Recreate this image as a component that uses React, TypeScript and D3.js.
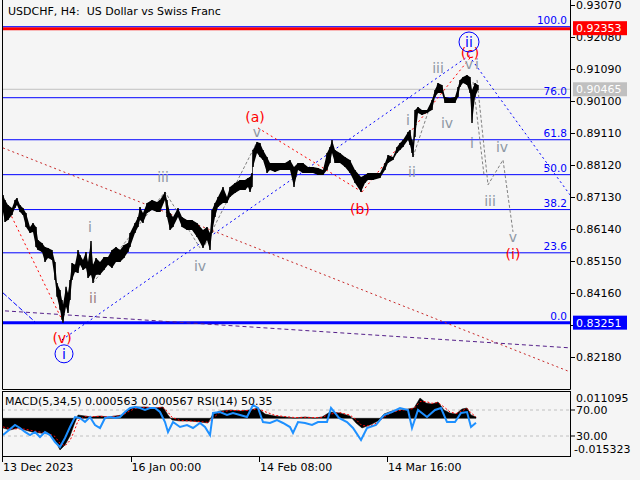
import React from "react";
import * as d3 from "d3";

const W = 640;
const H = 480;
const plotLeft = 2;
const plotRight = 570;
const mainBottom = 389;
const subTop = 391;
const subBottom = 456;

// H4 price samples: bar index, high, low
const barIdx = [1, 3, 6, 10, 13, 15, 18, 21, 24, 28, 31, 34, 36, 40, 43, 46, 50, 53, 55, 58, 60, 61, 64, 66, 68, 70, 73, 76, 78, 81, 84, 86, 89, 91, 94, 98, 102, 106, 110, 114, 118, 122, 126, 128, 133, 136, 138, 141, 145, 150, 155, 158, 163, 165, 168, 171, 176, 180, 185, 190, 195, 201, 205, 208, 210, 213, 216, 221, 225, 228, 233, 238, 243, 246, 248, 250, 251, 255, 258, 261, 265, 268, 273, 278, 283, 288, 292, 296, 301, 306, 311, 316, 321, 325, 328, 330, 333, 338, 343, 348, 353, 359, 363, 366, 371, 378, 383, 386, 391, 395, 398, 401, 406, 408, 410, 411, 413, 416, 420, 425, 430, 433, 436, 440, 443, 448, 453, 456, 458, 461, 465, 468, 470, 473, 476];
const barHigh = [0.872, 0.87045, 0.86891, 0.86798, 0.87045, 0.87107, 0.86891, 0.86798, 0.86643, 0.86211, 0.86334, 0.86211, 0.85809, 0.85716, 0.85593, 0.85562, 0.855, 0.85129, 0.8448, 0.84264, 0.83955, 0.83801, 0.84357, 0.84171, 0.84573, 0.85098, 0.85037, 0.855, 0.85346, 0.85191, 0.85438, 0.85129, 0.85778, 0.85037, 0.85253, 0.85129, 0.85284, 0.85284, 0.855, 0.85593, 0.855, 0.85655, 0.85716, 0.86025, 0.86334, 0.8652, 0.86829, 0.86643, 0.86952, 0.87045, 0.86983, 0.87045, 0.87292, 0.87045, 0.86643, 0.8652, 0.86798, 0.8652, 0.86427, 0.86427, 0.86334, 0.86118, 0.86211, 0.86025, 0.86736, 0.86952, 0.87138, 0.87447, 0.87138, 0.87447, 0.8757, 0.87663, 0.87663, 0.87725, 0.87756, 0.87879, 0.8859, 0.88837, 0.88806, 0.8859, 0.88374, 0.88188, 0.88188, 0.88188, 0.88188, 0.88281, 0.88065, 0.88188, 0.88188, 0.88065, 0.88065, 0.88034, 0.87972, 0.88497, 0.88683, 0.88899, 0.8859, 0.88497, 0.88374, 0.88281, 0.87972, 0.87756, 0.87818, 0.87879, 0.87879, 0.87879, 0.88188, 0.88436, 0.88374, 0.88683, 0.88806, 0.88899, 0.89146, 0.89208, 0.88899, 0.88806, 0.89826, 0.89919, 0.89826, 0.89826, 0.90135, 0.90444, 0.9066, 0.90599, 0.90228, 0.90197, 0.90228, 0.90537, 0.90753, 0.90846, 0.90908, 0.90846, 0.90444, 0.9066, 0.90599];
const barLow = [0.86674, 0.86365, 0.86427, 0.86582, 0.86798, 0.86891, 0.86674, 0.86582, 0.86211, 0.86025, 0.86056, 0.85593, 0.855, 0.85438, 0.85129, 0.85253, 0.85191, 0.84573, 0.84048, 0.83646, 0.83337, 0.83251, 0.83739, 0.83553, 0.83955, 0.84573, 0.8482, 0.84789, 0.85037, 0.84882, 0.84944, 0.84635, 0.84728, 0.8448, 0.84728, 0.84728, 0.84882, 0.85037, 0.84944, 0.85129, 0.85129, 0.85253, 0.85438, 0.85593, 0.86025, 0.86211, 0.86427, 0.86334, 0.86643, 0.86736, 0.86674, 0.86674, 0.87045, 0.8652, 0.86118, 0.86211, 0.8652, 0.86211, 0.86118, 0.86118, 0.85902, 0.85562, 0.85809, 0.855, 0.86025, 0.8652, 0.86829, 0.86952, 0.86952, 0.87138, 0.87261, 0.87354, 0.87354, 0.87447, 0.87292, 0.87447, 0.88065, 0.88497, 0.88374, 0.88281, 0.87879, 0.87972, 0.8791, 0.87972, 0.87972, 0.87972, 0.87447, 0.87972, 0.87879, 0.87879, 0.87879, 0.87818, 0.87818, 0.87972, 0.88188, 0.88497, 0.88188, 0.88188, 0.88065, 0.87879, 0.8757, 0.87292, 0.8757, 0.87663, 0.87663, 0.87725, 0.87972, 0.88188, 0.88281, 0.88497, 0.8859, 0.88683, 0.88899, 0.88745, 0.88497, 0.88374, 0.88992, 0.89733, 0.89672, 0.89733, 0.89826, 0.90228, 0.90351, 0.90351, 0.90042, 0.90042, 0.90042, 0.90228, 0.90537, 0.9066, 0.90599, 0.90351, 0.89424, 0.90228, 0.90444];

const priceTicks = [0.9307, 0.9208, 0.9109, 0.901, 0.8911, 0.8812, 0.8713, 0.8614, 0.8515, 0.8416, 0.8317, 0.8218];
const dateTickBars = [0, 128.5, 257, 385];
const dateTickLabels = ["13 Dec 2023", "16 Jan 00:00", "14 Feb 08:00", "14 Mar 16:00"];

const fibLevels = [0, 23.6, 38.2, 50, 61.8, 76, 100];
const fibLow = 0.83251;
const fibHigh = 0.924;
const highLine = 0.92353;
const lowLine = 0.83251;
const lastPrice = 0.90465;

// MACD(5,34,5) and signal
const macdBars = [1, 8, 16, 23, 30, 38, 46, 53, 58, 63, 68, 72, 76, 83, 90, 98, 106, 113, 120, 126, 133, 143, 153, 161, 166, 170, 178, 188, 198, 206, 211, 218, 228, 238, 248, 256, 263, 273, 283, 293, 303, 313, 320, 328, 338, 348, 354, 360, 368, 376, 382, 390, 398, 406, 412, 418, 424, 430, 436, 442, 448, 454, 460, 465, 469, 474];
const macdVals = [-0.00394, -0.00476, -0.00394, -0.00476, -0.00557, -0.00598, -0.00638, -0.00882, -0.01289, -0.01085, -0.0072, -0.00272, 0.00134, 0.00093, 0.00053, 0.00093, 0.00053, 0.00093, 0.00134, 0.00337, 0.00459, 0.00459, 0.00419, 0.00459, 0.00134, -0.00069, -0.0011, -0.0011, -0.0015, -0.00191, 0.00175, 0.00297, 0.00337, 0.00297, 0.00337, 0.00419, 0.00175, 0.00093, 0.00053, 0.00012, 0.00053, 0.00012, 0.00053, 0.00256, 0.00215, 0.00093, -0.00191, -0.00394, -0.00272, -0.0011, 0.00175, 0.00297, 0.00337, 0.00378, 0.00419, 0.00825, 0.00622, 0.00581, 0.00663, 0.00337, 0.00215, 0.00175, 0.00378, 0.00419, 0.00134, 0.00056];
const signalVals = [-0.0035, -0.0042, -0.0043, -0.0044, -0.005, -0.0056, -0.0061, -0.0074, -0.0102, -0.0112, -0.009, -0.0055, -0.001, 0.0008, 0.0007, 0.0008, 0.0007, 0.0008, 0.0011, 0.0026, 0.004, 0.0045, 0.0043, 0.0044, 0.0025, 0.0004, -0.0009, -0.0011, -0.0013, -0.0017, 0.0002, 0.0024, 0.0032, 0.0031, 0.0032, 0.0039, 0.0027, 0.0012, 0.0007, 0.0003, 0.0004, 0.0003, 0.0004, 0.0017, 0.0023, 0.0013, -0.0005, -0.003, -0.0031, -0.0017, 0.0005, 0.0024, 0.0032, 0.0036, 0.004, 0.0068, 0.0068, 0.0061, 0.0064, 0.0046, 0.0026, 0.0019, 0.003, 0.004, 0.0022, 0.00057];

// RSI(14)
const rsiBars = [1, 13, 18, 23, 28, 33, 38, 43, 48, 53, 58, 63, 68, 73, 78, 83, 88, 93, 98, 103, 108, 113, 118, 123, 128, 133, 138, 143, 148, 153, 158, 163, 166, 171, 178, 185, 191, 198, 203, 208, 211, 218, 225, 231, 238, 245, 251, 256, 261, 268, 275, 281, 288, 291, 296, 303, 310, 316, 325, 329, 337, 345, 351, 359, 365, 374, 382, 390, 398, 406, 410, 416, 425, 433, 439, 445, 453, 459, 465, 469, 474];
const rsiVals = [31.5, 46.9, 42.3, 36.2, 31.5, 36.2, 28.5, 36.2, 31.5, 20.8, 13.1, 26.9, 43.8, 59.2, 57.7, 51.5, 59.2, 46.9, 42.3, 57.7, 59.2, 57.7, 59.2, 66.9, 73.1, 74.6, 73.1, 70, 73.1, 73.1, 66.9, 51.5, 36.2, 51.5, 43.8, 46.9, 42.3, 50, 43.8, 31.5, 65.4, 66.9, 62.3, 65.4, 62.3, 59.2, 77.7, 73.1, 51.5, 50, 54.6, 50, 43.8, 34.6, 51.5, 50, 46.9, 51.5, 51.5, 73.1, 57.7, 51.5, 42.3, 23.8, 42.3, 46.9, 62.3, 66.9, 73.1, 70, 42.3, 70, 59.2, 70, 73.1, 51.5, 51.5, 65.4, 66.9, 43.8, 50.35];

const RED = "#ff0000";
const BLUE = "#0000ff";
const GREY = "#8d98a4";
const FONT = "DejaVu Sans";

// analysis drawings (bar, price)
const trendLines = [
  { b1: 1, p1: 0.88652, b2: 568, p2: 0.8173, color: "#c82828", dash: "2,3" },
  { b1: 3, p1: 0.86952, b2: 60, p2: 0.83337, color: RED, dash: "2,3" },
  { b1: 256, p1: 0.8927, b2: 360, p2: 0.87292, color: RED, dash: "2,3" },
  { b1: 360, p1: 0.87292, b2: 468, p2: 0.91433, color: RED, dash: "2,3" },
  { b1: 60, p1: 0.82719, b2: 468, p2: 0.91526, color: BLUE, dash: "2,3" },
  { b1: 470, p1: 0.91371, b2: 568, p2: 0.872, color: BLUE, dash: "2,3" },
  { b1: 1, p1: 0.84171, b2: 33, p2: 0.83275, color: BLUE, dash: "5,2" },
  { b1: 3, p1: 0.83615, b2: 568, p2: 0.82472, color: "#55208a", dash: "4,3" },
];

const wavePaths = [
  [[91, 0.8448], [163, 0.87292], [198, 0.85562]],
  [[203, 0.85655], [255, 0.88837]],
  [[411, 0.88374], [436, 0.9066]],
  [[471, 0.90691], [482, 0.87818]],
  [[475, 0.90753], [486, 0.87509], [501, 0.88281], [511, 0.86056]],
];

const waveLabels = [
  { t: "(v)", b: 60, p: 0.82781, c: RED },
  { t: "i", b: 62, p: 0.82287, c: BLUE, ring: 9 },
  { t: "i", b: 88, p: 0.86211, c: GREY },
  { t: "ii", b: 91, p: 0.84017, c: "#9a8080" },
  { t: "iii", b: 161, p: 0.87756, c: GREY },
  { t: "iv", b: 198, p: 0.85006, c: GREY },
  { t: "v", b: 255, p: 0.89146, c: GREY },
  { t: "(a)", b: 253, p: 0.8961, c: RED },
  { t: "(b)", b: 358, p: 0.86767, c: RED },
  { t: "i", b: 406, p: 0.89517, c: GREY },
  { t: "ii", b: 410, p: 0.8791, c: GREY },
  { t: "iii", b: 436, p: 0.91124, c: GREY },
  { t: "iv", b: 445, p: 0.89424, c: GREY },
  { t: "v", b: 467, p: 0.91247, c: GREY },
  { t: "i", b: 475, p: 0.91247, c: GREY },
  { t: "(c)", b: 468, p: 0.91587, c: RED },
  { t: "ii", b: 467, p: 0.91927, c: BLUE, ring: 10 },
  { t: "i", b: 470, p: 0.88806, c: GREY },
  { t: "iv", b: 500, p: 0.88683, c: GREY },
  { t: "iii", b: 488, p: 0.87014, c: GREY },
  { t: "v", b: 511, p: 0.85902, c: GREY },
  { t: "(i)", b: 511, p: 0.85376, c: RED },
];

const x = d3.scaleLinear().domain([0, 568]).range([plotLeft, plotRight]);
const y = d3.scaleLinear().domain([0.8218, 0.9307]).range([357.3, 5]);
const yMacd = d3.scaleLinear().domain([-0.015323, 0.011095]).range([subBottom, subTop]);
const yRsi = d3.scaleLinear().domain([0, 100]).range([455.5, 390.5]);
const fmt = d3.format(".5f");

const App: React.FC = () => {
  const idx = d3.range(barIdx.length);
  const priceArea = d3
    .area<number>()
    .x((i) => x(barIdx[i]))
    .y0((i) => y(barLow[i]))
    .y1((i) => y(barHigh[i]))(idx) as string;

  const macdArea = d3
    .area<number>()
    .x((i) => x(macdBars[i]))
    .y0(yMacd(0))
    .y1((i) => yMacd(macdVals[i]))(d3.range(macdBars.length)) as string;

  const signalLine = d3
    .line<number>()
    .x((i) => x(macdBars[i]))
    .y((i) => yMacd(signalVals[i]))(d3.range(macdBars.length)) as string;

  const rsiLine = d3
    .line<number>()
    .x((i) => x(rsiBars[i]))
    .y((i) => yRsi(rsiVals[i]))(d3.range(rsiBars.length)) as string;

  const pathLine = d3
    .line<number[]>()
    .x((d) => x(d[0]))
    .y((d) => y(d[1]));

  const fibY = (lv: number) => y(fibLow + (lv / 100) * (fibHigh - fibLow));

  return (
    <svg
      width={W}
      height={H}
      style={{ position: "absolute", left: 0, top: 0, background: "#f5f5f5" }}
      fontFamily={FONT}
    >
      <defs>
        <clipPath id="mainClip">
          <rect x={plotLeft} y={0} width={plotRight - plotLeft} height={mainBottom} />
        </clipPath>
        <clipPath id="subClip">
          <rect x={plotLeft} y={subTop} width={plotRight - plotLeft} height={subBottom - subTop} />
        </clipPath>
      </defs>
      <rect width={W} height={H} fill="#f5f5f5" />

      <g clipPath="url(#mainClip)">
        {/* last price */}
        <line x1={plotLeft} x2={plotRight} y1={y(lastPrice)} y2={y(lastPrice)} stroke="#c0c0c0" />
        {/* high / low horizontal lines */}
        <line x1={plotLeft} x2={plotRight} y1={y(highLine) + 0.5} y2={y(highLine) + 0.5} stroke={RED} strokeWidth={3} />
        <line x1={plotLeft} x2={plotRight} y1={y(lowLine)} y2={y(lowLine)} stroke={BLUE} strokeWidth={3} />
        {/* fibonacci */}
        {fibLevels.map((lv) => (
          <g key={lv}>
            <line x1={plotLeft} x2={plotRight} y1={fibY(lv)} y2={fibY(lv)} stroke={BLUE} strokeWidth={1} />
            <text x={567} y={fibY(lv) - 3} textAnchor="end" fontSize={10.5} fill={BLUE}>
              {lv.toFixed(1)}
            </text>
          </g>
        ))}
        {trendLines.map((l, i) => (
          <line
            key={i}
            x1={x(l.b1)}
            y1={y(l.p1)}
            x2={x(l.b2)}
            y2={y(l.p2)}
            stroke={l.color}
            strokeWidth={1}
            strokeDasharray={l.dash}
          />
        ))}
        {wavePaths.map((p, i) => (
          <path key={i} d={pathLine(p) as string} fill="none" stroke="#808080" strokeDasharray="3,2" />
        ))}
        {/* price bars */}
        <path d={priceArea} fill="#000" />
        {idx.map((i) => (
          <line
            key={i}
            x1={x(barIdx[i])}
            x2={x(barIdx[i])}
            y1={y(barHigh[i])}
            y2={y(barLow[i])}
            stroke="#000"
            strokeWidth={1.5}
          />
        ))}
        {waveLabels.map((l, i) => (
          <g key={i}>
            {l.ring && (
              <circle cx={x(l.b)} cy={y(l.p)} r={l.ring} fill="none" stroke={BLUE} strokeWidth={1} />
            )}
            <text
              x={x(l.b)}
              y={y(l.p)}
              dy="0.36em"
              textAnchor="middle"
              fontSize={14}
              fill={l.c}
            >
              {l.t}
            </text>
          </g>
        ))}
      </g>

      {/* title */}
      <text x={8} y={15} fontSize={11} fill="#000" xmlSpace="preserve">
        {"USDCHF, H4:\u00a0 US Dollar vs Swiss Franc"}
      </text>

      {/* main frame */}
      <path d={`M${plotLeft + 0.5},0V${mainBottom + 0.5}H${plotRight + 0.5}V0`} fill="none" stroke="#000" />

      {/* price axis */}
      {priceTicks.map((p) => (
        <g key={p}>
          <line x1={plotRight} x2={plotRight + 5} y1={Math.round(y(p)) + 0.5} y2={Math.round(y(p)) + 0.5} stroke="#000" />
          <text x={576} y={y(p)} dy="0.36em" fontSize={11} fill="#000">
            {fmt(p)}
          </text>
        </g>
      ))}
      {[
        { p: highLine, c: RED },
        { p: lastPrice, c: "#c0c0c0" },
        { p: lowLine, c: BLUE },
      ].map((b) => (
        <g key={b.p}>
          <rect x={573} y={y(b.p) - 7} width={54} height={14} fill={b.c} />
          <text x={576} y={y(b.p)} dy="0.36em" fontSize={11} fill="#fff">
            {fmt(b.p)}
          </text>
        </g>
      ))}

      {/* indicator panel */}
      <g clipPath="url(#subClip)">
        <line x1={plotLeft} x2={plotRight} y1={yRsi(70)} y2={yRsi(70)} stroke="#c0c0c0" strokeDasharray="3,3" />
        <line x1={plotLeft} x2={plotRight} y1={yRsi(30)} y2={yRsi(30)} stroke="#c0c0c0" strokeDasharray="3,3" />
        <path d={macdArea} fill="#000" stroke="#000" strokeWidth={0.5} />
        <path d={signalLine} fill="none" stroke={RED} strokeWidth={1} strokeDasharray="2,2" />
        <path d={rsiLine} fill="none" stroke="#1e90ff" strokeWidth={2} />
      </g>
      <text x={5} y={405} fontSize={11} fill="#000">
        MACD(5,34,5) 0.000563 0.000567 RSI(14) 50.35
      </text>
      <rect x={plotLeft + 0.5} y={subTop + 0.5} width={plotRight - plotLeft} height={subBottom - subTop} fill="none" stroke="#000" />
      <text x={576} y={398} dy="0.36em" fontSize={11} fill="#000">0.011095</text>
      <line x1={plotRight} x2={plotRight + 5} y1={yRsi(70)} y2={yRsi(70)} stroke="#000" />
      <text x={576} y={yRsi(70)} dy="0.36em" fontSize={11} fill="#000">70.00</text>
      <line x1={plotRight} x2={plotRight + 5} y1={yRsi(30)} y2={yRsi(30)} stroke="#000" />
      <text x={576} y={yRsi(30)} dy="0.36em" fontSize={11} fill="#000">30.00</text>
      <text x={574} y={449} dy="0.36em" fontSize={11} fill="#000">-0.015323</text>

      {/* time axis */}
      {dateTickBars.map((b, i) => (
        <g key={b}>
          <line x1={Math.round(x(b)) + 0.5} x2={Math.round(x(b)) + 0.5} y1={subBottom} y2={subBottom + 6} stroke="#000" />
          <text x={x(b) + 1} y={471} fontSize={11} fill="#000">
            {dateTickLabels[i]}
          </text>
        </g>
      ))}
    </svg>
  );
};

export default App;
